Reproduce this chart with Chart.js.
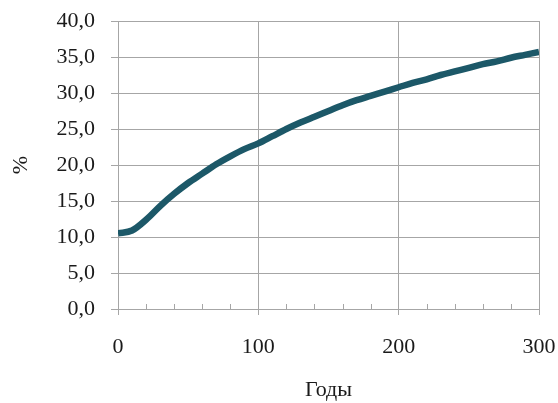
<!DOCTYPE html>
<html><head><meta charset="utf-8">
<script src="https://cdn.jsdelivr.net/npm/chart.js@4/dist/chart.umd.min.js"></script>
<style>html,body{margin:0;padding:0;background:#fff;}#wrap{width:558px;height:403px;}</style>
</head><body><div id="wrap"><canvas id="c" width="558" height="403"></canvas></div>
<script>
const years = [0,10,20,30,40,50,60,70,80,90,100,110,120,130,140,150,160,170,180,190,200,210,220,230,240,250,260,270,280,290,300];
const percent = [10.5,10.9,12.4,14.3,16.0,17.5,18.8,20.1,21.2,22.2,23.0,24.0,25.0,25.9,26.7,27.5,28.3,29.0,29.6,30.2,30.8,31.4,31.9,32.5,33.0,33.5,34.0,34.4,34.9,35.3,35.7];
const xMinorTicks = [20,40,60,80,120,140,160,180,220,240,260,280];
const xTitle = 'Годы';
const yTitle = '%';

const gridCol = '#a6a6a6';
const font = {family: "'Liberation Serif', 'Times New Roman', serif", size: 22};

const minorTicks = {
  id: 'minorTicks',
  afterDraw(chart) {
    const xs = chart.scales.x, ys = chart.scales.y;
    const ctx = chart.ctx;
    const y0 = ys.getPixelForValue(0);
    ctx.save();
    ctx.strokeStyle = gridCol; ctx.lineWidth = 1;
    xMinorTicks.forEach(v => {
      const px = Math.round(xs.getPixelForValue(v)) + 0.5;
      ctx.beginPath(); ctx.moveTo(px, y0); ctx.lineTo(px, y0 - 5); ctx.stroke();
    });
    ctx.restore();
  }
};

new Chart(document.getElementById('c'), {
  type: 'line',
  data: {
    datasets: [{
      data: years.map((x, i) => ({x, y: percent[i]})),
      borderColor: '#1c5868',
      borderWidth: 6.5,
      pointRadius: 0,
      tension: 0.4,
      cubicInterpolationMode: 'monotone',
      fill: false
    }]
  },
  options: {
    responsive: false,
    animation: false,
    layout: {padding: {top: 21, right: 19, bottom: 0, left: 0}},
    plugins: {legend: {display: false}, tooltip: {enabled: false}},
    scales: {
      x: {
        type: 'linear', min: 0, max: 300,
        ticks: {stepSize: 100, font, color: '#1a1a1a', padding: 19, maxRotation: 0},
        grid: {color: gridCol, lineWidth: 1, tickLength: 6, drawTicks: true},
        border: {color: gridCol, width: 1},
        title: {display: true, text: xTitle, font, color: '#1a1a1a', padding: {top: 0, bottom: 0}},
        afterFit(s) { s.height = 94; s.paddingLeft = 0; s.paddingRight = 0; }
      },
      y: {
        min: 0, max: 40,
        ticks: {stepSize: 5, font, color: '#1a1a1a', padding: 16,
          callback: v => v.toFixed(1).replace('.', ',')},
        grid: {color: gridCol, lineWidth: 1, tickLength: 7, drawTicks: true},
        border: {color: gridCol, width: 1},
        title: {display: true, text: yTitle, font, color: '#1a1a1a', padding: {top: 8, bottom: 0}},
        afterFit(s) { s.width = 118; s.paddingTop = 0; s.paddingBottom = 0; }
      }
    }
  },
  plugins: [minorTicks]
});
</script>
</body></html>
